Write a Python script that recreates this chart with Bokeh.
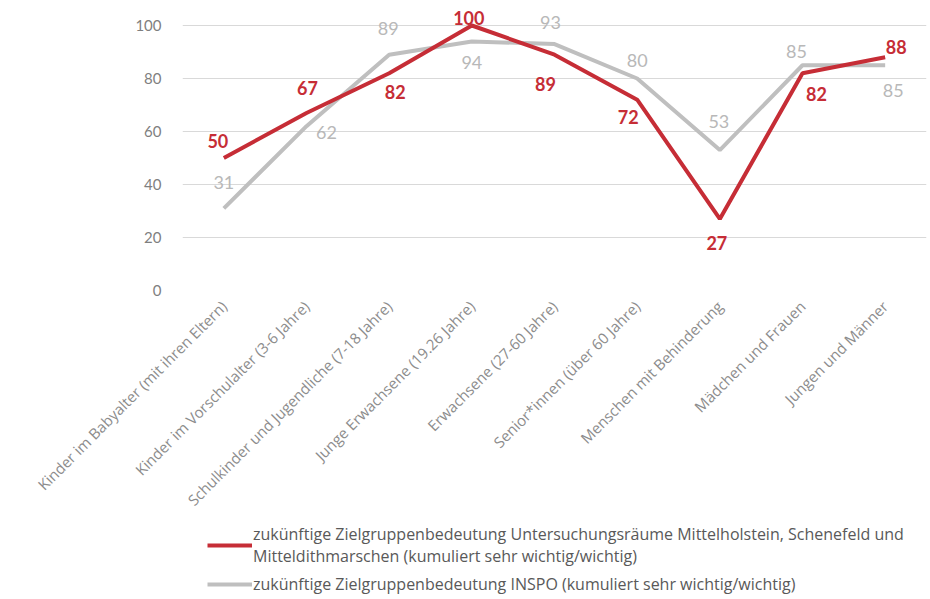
import math
from bokeh.plotting import figure
from bokeh.layouts import column
from bokeh.models import ColumnDataSource, Range1d, FixedTicker, Legend, LegendItem
from bokeh.core.properties import value
from bokeh.embed import file_html
from bokeh.resources import INLINE

# ---- data ----
categories = [
    "Kinder im Babyalter (mit ihren Eltern)",
    "Kinder im Vorschulalter (3-6 Jahre)",
    "Schulkinder und Jugendliche (7-18 Jahre)",
    "Junge Erwachsene (19.26 Jahre)",
    "Erwachsene (27-60 Jahre)",
    "Senior*innen (über 60 Jahre)",
    "Menschen mit Behinderung",
    "Mädchen und Frauen",
    "Jungen und Männer",
]
red_values = [50, 67, 82, 100, 89, 72, 27, 82, 88]
gray_values = [31, 62, 89, 94, 93, 80, 53, 85, 85]
y_ticks = [0, 20, 40, 60, 80, 100]
red_name = ("zukünftige Zielgruppenbedeutung Untersuchungsräume Mittelholstein, Schenefeld und\n"
            "Mitteldithmarschen (kumuliert sehr wichtig/wichtig)")
gray_name = "zukünftige Zielgruppenbedeutung INSPO (kumuliert sehr wichtig/wichtig)"

# ---- label placement (screen px offsets, styling only) ----
red_dx = [-6, 1, 6, -3, -9, -9, -3, 14, 11]
red_dy = [-17, -25, 19, -8, 29, 17, 24, 21, -10]
gray_dx = [0, 20, -1, 0, -4, 0, -1, -6, 8]
gray_dy = [-26, 6, -26, 21, -22, -18, -29, -14, 25]

RED = "#c62d36"
GRAY = "#bfbfbf"
FONT = "Lato"

red_src = ColumnDataSource(dict(x=categories, y=red_values,
                                t=[str(v) for v in red_values], dx=red_dx, dy=red_dy))
gray_src = ColumnDataSource(dict(x=categories, y=gray_values,
                                 t=[str(v) for v in gray_values], dx=gray_dx, dy=gray_dy))

MAIN_H = 522
p = figure(x_range=categories, y_range=Range1d(0, 106.04), width=930, height=MAIN_H,
           output_backend="svg", toolbar_location=None,
           min_border_left=182, min_border_right=4, min_border_top=9,
           min_border_bottom=MAIN_H - 290)
p.outline_line_color = None
p.background_fill_color = "white"
p.border_fill_color = "white"

# y axis
p.yaxis.ticker = FixedTicker(ticks=y_ticks)
p.yaxis.axis_line_color = None
p.yaxis.major_tick_line_color = None
p.yaxis.minor_tick_line_color = None
p.yaxis.major_label_standoff = 15
p.yaxis.major_label_text_font = FONT
p.yaxis.major_label_text_font_size = "15px"
p.yaxis.major_label_text_color = "#7f7f7f"

# x axis
p.xaxis.axis_line_color = None
p.xaxis.major_tick_line_color = None
p.xaxis.minor_tick_line_color = None
p.xaxis.major_label_orientation = math.pi / 4
p.xaxis.major_label_standoff = 7
p.xaxis.major_label_text_font = "Open Sans"
p.xaxis.major_label_text_font_size = "15px"
p.xaxis.major_label_text_color = "#8c8c8c"

p.xgrid.grid_line_color = None
p.ygrid.grid_line_color = "#d9d9d9"
p.ygrid.grid_line_width = 1

# lines
p.line("x", "y", source=gray_src, line_color=GRAY, line_width=4)
p.line("x", "y", source=red_src, line_color=RED, line_width=4)

# data labels
p.text("x", "y", text="t", source=gray_src, x_offset="dx", y_offset="dy",
       text_align="center", text_baseline="middle", text_font=value(FONT),
       text_font_size="18px", text_color="#b8b8b8")
p.text("x", "y", text="t", source=red_src, x_offset="dx", y_offset="dy",
       text_align="center", text_baseline="middle", text_font=value(FONT),
       text_font_size="18px", text_font_style="bold", text_color=RED)

# ---- legend strip below the chart ----
LEG_H = 599 - MAIN_H
q = figure(width=930, height=LEG_H, x_range=Range1d(0, 1), y_range=Range1d(0, 1),
           output_backend="svg", toolbar_location=None,
           x_axis_location=None, y_axis_location=None,
           min_border_left=182, min_border_right=4, min_border_top=0, min_border_bottom=0)
q.outline_line_color = None
q.xgrid.visible = False
q.ygrid.visible = False
q.border_fill_color = "white"
q.background_fill_color = "white"
nan = float("nan")
lr = q.line(x=[nan], y=[nan], line_color=RED, line_width=4)
lg = q.line(x=[nan], y=[nan], line_color=GRAY, line_width=4)

legend = Legend(items=[LegendItem(label=red_name, renderers=[lr]),
                       LegendItem(label=gray_name, renderers=[lg])],
                location=(25, 4), orientation="vertical")
legend.label_text_font = "Open Sans"
legend.label_text_font_size = "16px"
legend.label_text_line_height = 0.9
legend.label_text_color = "#595959"
legend.glyph_width = 45
legend.label_standoff = 1
legend.spacing = 6
legend.padding = 0
legend.margin = 0
legend.border_line_color = None
legend.background_fill_alpha = 0
q.add_layout(legend)

layout = column(p, q, spacing=0)
open("out.html", "w").write(file_html(layout, INLINE))
